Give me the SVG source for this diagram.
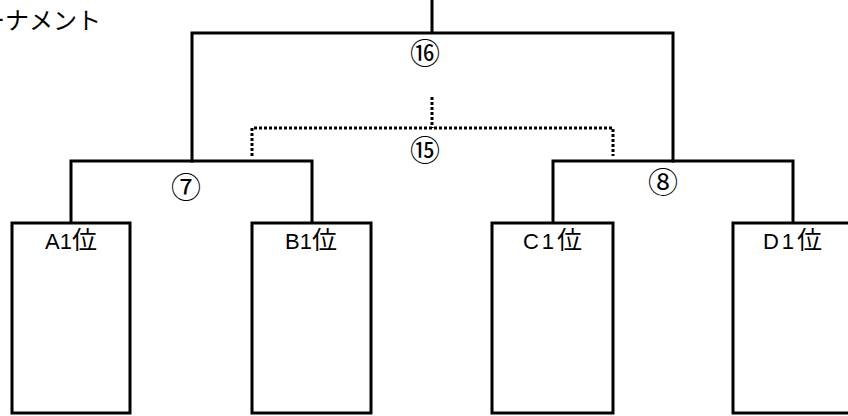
<svg xmlns="http://www.w3.org/2000/svg" width="848" height="416" viewBox="0 0 848 416">
<style>
.ln{fill:none;stroke:#000;stroke-width:3;stroke-linecap:square}
.dt{fill:none;stroke:#000;stroke-width:3;stroke-dasharray:3 2}
.box{fill:#fff;stroke:#000;stroke-width:3}
.lbl{font-family:"Liberation Sans","Noto Sans CJK JP",sans-serif;font-size:22px;fill:#000;text-anchor:middle}
.cj{font-family:"Noto Sans CJK JP",sans-serif;font-size:25px}
.num{font-family:"Noto Sans CJK JP",sans-serif;font-size:30px;fill:#000;text-anchor:middle}
.ttl{font-family:"Noto Sans CJK JP",sans-serif;font-size:24px;fill:#000}
</style>
<rect width="848" height="416" fill="#fff"/>
<text class="ttl" x="-19" y="29">ーナメント</text>
<g id="connectors">
<path class="ln" d="M432,0 V33 M192,161 V33 H673 V161"/>
<path class="ln" d="M71,223 V161 H312 V223"/>
<path class="ln" d="M553,223 V161 H793 V223"/>
<path class="dt" d="M432,97 V128"/>
<path class="dt" d="M252,156 V128 H613 V156"/>
</g>
<g id="match16"><text class="num" x="425" y="64">⑯</text></g>
<g id="match15"><text class="num" x="425" y="161">⑮</text></g>
<g id="match7"><text class="num" x="186" y="198">⑦</text></g>
<g id="match8"><text class="num" x="663" y="193">⑧</text></g>
<g id="A1"><rect class="box" x="12" y="223" width="118" height="190"/><text class="lbl" x="71" y="249">A1<tspan class="cj">位</tspan></text></g>
<g id="B1"><rect class="box" x="252" y="223" width="119" height="190"/><text class="lbl" x="311" y="249">B1<tspan class="cj">位</tspan></text></g>
<g id="C1"><rect class="box" x="492" y="223" width="121" height="190"/><text class="lbl" x="554" y="249" letter-spacing="3">C1<tspan class="cj">位</tspan></text></g>
<g id="D1"><rect class="box" x="733" y="223" width="130" height="190"/><text class="lbl" x="794" y="249" letter-spacing="3">D1<tspan class="cj">位</tspan></text></g>
</svg>
